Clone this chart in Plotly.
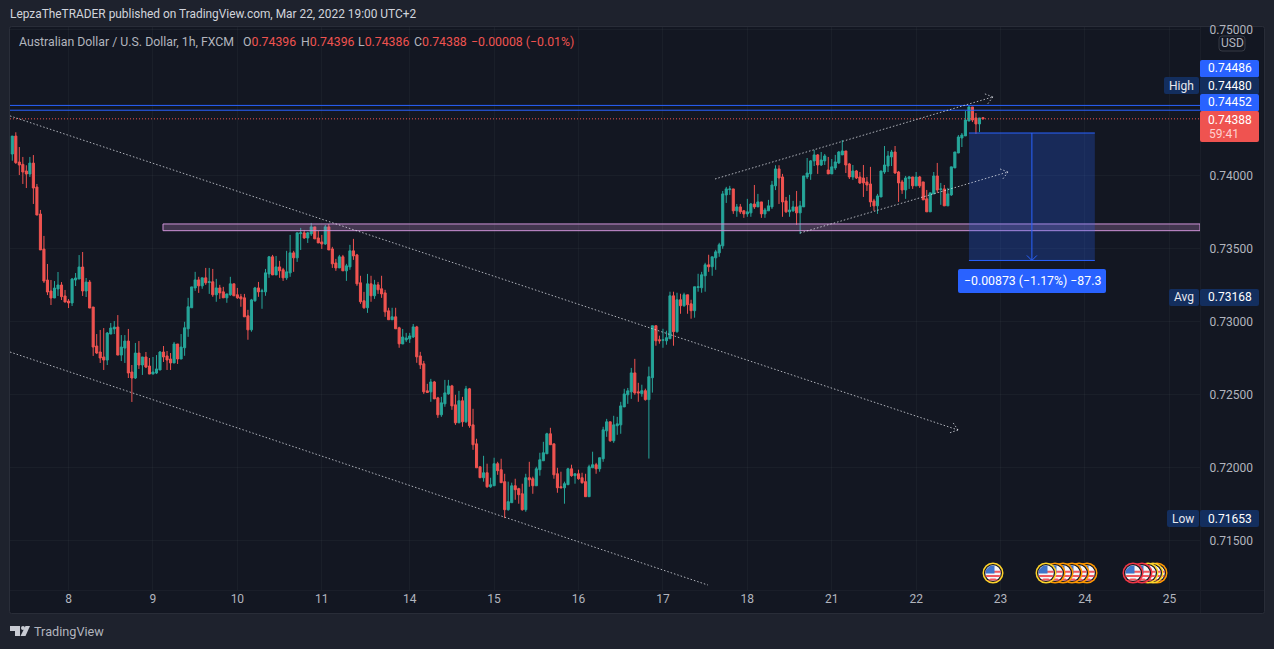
import math
import plotly.graph_objects as go

# ---- data: hourly AUD/USD, values in units of 0.00001 ----
opens = [
74147,74270,74092,74076,74031,74010,74085,73921,73736,73496,
73284,73209,73161,73223,73250,73175,73140,73127,73284,73291,
73373,73209,73270,73099,72832,72791,72757,72736,72914,72949,
72962,72770,72818,72866,72654,72613,72784,72702,72757,72695,
72640,72647,72668,72791,72764,72743,72716,72846,72743,72820,
72950,73094,73230,73285,73244,73299,73267,73272,73183,73230,
73203,73162,73183,73258,73183,73169,73162,73039,72943,73142,
73230,73205,73203,73326,73443,73319,73374,73354,73299,73333,
73470,73436,73602,73607,73572,73600,73648,73572,73545,73531,
73648,73497,73401,73367,73443,73347,73374,73484,73456,73265,
73142,73094,73258,73176,73251,73224,73196,73073,73012,73032,
72957,72846,72874,72881,72894,72963,72764,72710,72525,72518,
72586,72477,72361,72436,72504,72559,72429,72306,72457,72313,
72539,72292,72162,72005,71930,71964,71868,71875,72026,71985,
71903,71711,71759,71875,71855,71820,71711,71930,71923,71875,
71985,72046,72094,72231,72162,71957,71868,71861,71882,71991,
71944,71957,71930,71903,71800,71998,72019,71991,72060,72251,
72313,72183,72286,72292,72415,72498,72518,72648,72518,72506,
72526,72465,72615,72971,72875,72871,72868,72882,73176,72930,
73149,73108,73183,73121,73074,73233,73231,73313,73388,73375,
73436,73470,73518,73867,73903,73908,73758,73785,73758,73737,
73744,73805,73785,73819,73737,73758,73785,73929,74045,73990,
73826,73751,73758,73785,73744,73785,73990,74011,74100,74141,
74072,74100,74038,74011,74052,74086,74141,74168,74079,73990,
74031,73990,73983,73956,73942,73826,73792,73853,74024,74065,
74127,74161,74024,73956,73901,73979,73990,73929,73990,73956,
73840,73751,73874,73997,73904,73908,73792,73867,74052,74154,
74257,74271,74373,74469,74394,74353,74396]
highs = [
74270,74296,74195,74127,74070,74127,74140,73942,73764,73586,
73394,73284,73277,73339,73270,73216,73154,73298,73332,73455,
73476,73298,73284,73099,72914,72942,72955,72928,72990,73003,
73044,72907,72907,72949,72702,72853,72866,72757,72791,72750,
72757,72770,72798,72832,72798,72784,72860,72846,72914,72998,
73162,73237,73340,73306,73299,73367,73367,73360,73292,73251,
73237,73189,73306,73258,73230,73189,73189,73080,73155,73237,
73271,73224,73360,73449,73456,73449,73415,73367,73484,73593,
73484,73607,73641,73627,73614,73675,73648,73620,73593,73661,
73668,73511,73429,73456,73456,73395,73525,73566,73463,73313,
73203,73326,73313,73285,73271,73313,73217,73094,73094,73094,
72964,72949,72922,72922,72983,72970,72792,72730,72573,72607,
72593,72484,72484,72600,72600,72566,72498,72525,72484,72559,
72545,72402,72197,72005,72080,72026,71930,72067,72039,72060,
71957,71903,71896,71923,71861,71889,71957,72039,71937,72005,
72101,72176,72238,72272,72162,71998,71971,71903,71998,72019,
71957,71985,71964,71957,72019,72108,72032,72067,72279,72333,
72313,72354,72347,72450,72539,72545,72682,72744,72580,72567,
72540,72691,72971,72971,72903,72950,72937,73204,73204,73197,
73190,73197,73183,73149,73238,73327,73340,73402,73457,73443,
73491,73539,73894,73922,73929,73908,73805,73805,73764,73840,
73812,73935,73874,73819,73778,73833,73963,74070,74070,74011,
73853,73867,73826,73894,73826,73997,74120,74106,74175,74147,
74161,74147,74127,74113,74141,74168,74243,74168,74086,74072,
74038,74024,74072,73990,74059,73840,73874,74031,74202,74168,
74175,74202,74031,73970,73997,73997,73990,74024,73997,73956,
73901,73881,74024,74086,73949,73935,73915,74059,74161,74277,
74291,74442,74483,74469,74428,74394,74396]
lows = [
74101,74079,74003,73942,73914,73990,73805,73729,73490,73264,
73181,73113,73161,73175,73147,73133,73092,73106,73243,73291,
73175,73168,73092,72764,72777,72716,72668,72702,72914,72914,
72770,72729,72716,72613,72449,72606,72675,72634,72681,72640,
72640,72640,72668,72723,72668,72668,72716,72709,72743,72765,
72895,73094,73210,73196,73224,73251,73189,73169,73135,73155,
73162,73128,73176,73176,73155,73101,73032,72875,72930,73135,
73169,73087,73176,73299,73319,73319,73299,73278,73285,73306,
73340,73408,73490,73566,73538,73586,73566,73538,73497,73525,
73490,73367,73347,73367,73347,73278,73354,73422,73244,73121,
73087,73059,73135,73155,73189,73162,73032,73012,73012,72950,
72820,72846,72860,72853,72887,72717,72675,72504,72511,72450,
72470,72340,72347,72416,72498,72395,72292,72306,72279,72306,
72272,72121,71998,71930,71903,71861,71861,71875,71950,71896,
71653,71704,71759,71779,71752,71704,71697,71868,71820,71875,
71944,72046,72094,72156,71923,71827,71861,71752,71882,71937,
71889,71916,71889,71800,71800,71998,71957,71971,72039,72210,
72176,72169,72224,72231,72415,72436,72470,72498,72450,72485,
72458,72061,72513,72834,72848,72820,72841,72882,72834,72923,
73053,73101,73053,73019,73026,73204,73197,73204,73340,73313,
73354,73443,73498,73812,73867,73737,73717,73737,73710,73717,
73717,73771,73785,73710,73710,73758,73771,73900,73805,73717,
73744,73717,73751,73662,73600,73785,73976,73970,74065,74011,
74065,74072,74011,74011,74038,74079,74141,74017,73976,73970,
73976,73942,73853,73894,73785,73758,73737,73853,74011,74024,
74065,74011,73819,73874,73840,73908,73908,73929,73915,73833,
73751,73751,73874,73881,73799,73792,73792,73860,74052,74154,
74195,74271,74373,74366,74284,74298,74386]
closes = [
74270,74088,74072,74024,74010,74085,73914,73729,73490,73277,
73202,73161,73229,73250,73170,73133,73127,73291,73298,73373,
73209,73270,73092,72825,72784,72750,72736,72921,72955,72962,
72770,72825,72866,72647,72613,72784,72702,72757,72688,72640,
72654,72675,72791,72757,72736,72716,72846,72743,72825,72957,
73101,73237,73285,73244,73299,73265,73272,73183,73230,73196,
73162,73189,73258,73176,73162,73155,73032,72943,73148,73230,
73203,73210,73333,73443,73319,73374,73347,73299,73340,73470,
73436,73607,73607,73572,73607,73648,73566,73538,73531,73648,
73490,73395,73367,73443,73347,73381,73484,73449,73258,73135,
73094,73258,73176,73251,73217,73189,73066,73012,73032,72950,
72847,72894,72887,72901,72963,72758,72703,72518,72514,72586,
72470,72361,72443,72511,72559,72422,72306,72457,72313,72539,
72286,72156,71998,71930,71964,71868,71882,72026,71978,71896,
71711,71766,71875,71848,71814,71711,71930,71916,71875,71991,
72053,72101,72231,72156,71950,71861,71861,71889,71991,71944,
71957,71923,71896,71800,72005,72019,71991,72067,72258,72313,
72183,72292,72299,72422,72504,72525,72648,72511,72511,72526,
72465,72622,72971,72868,72868,72875,72889,73176,72930,73149,
73108,73183,73115,73074,73238,73238,73320,73388,73375,73443,
73477,73525,73874,73908,73908,73758,73785,73751,73737,73751,
73805,73785,73819,73737,73764,73792,73935,74045,73983,73819,
73751,73764,73785,73744,73792,73997,74017,74100,74141,74072,
74106,74134,74011,74059,74093,74161,74168,74072,73990,74031,
73983,73949,73949,73935,73819,73792,73860,74031,74072,74134,
74161,74017,73949,73901,73983,73990,73929,73990,73929,73833,
73751,73881,73997,73901,73908,73792,73874,74059,74161,74264,
74277,74380,74469,74380,74353,74394,74388]

day_positions = [16, 40, 64, 88, 113, 137, 161, 185, 209, 233, 257, 281, 305, 329]
day_labels = ["8", "9", "10", "11", "14", "15", "16", "17", "18", "21", "22", "23", "24", "25"]
price_ticks = [0.75, 0.74, 0.735, 0.73, 0.725, 0.72, 0.715]
price_labels = ["0.75000", "0.74000", "0.73500", "0.73000", "0.72500", "0.72000", "0.71500"]

blue_levels = [0.74480, 0.74447]
last_price = 0.74388
zone_low, zone_high, zone_start = 0.73622, 0.73668, 42.85
short_top, short_bottom = 0.74291, 0.73418
short_start, short_end = 272.0, 307.8
# trend lines: start index, start price, end index, end price, arrow?
trend_start_x = [-0.65, -0.65, 199.8, 224.0]
trend_start_p = [0.74408, 0.72791, 0.73976, 0.73606]
trend_end_x = [268.9, 197.8, 278.8, 283.1]
trend_end_p = [0.72257, 0.71195, 0.74538, 0.74024]
trend_arrow = [True, False, True, True]

FONT = "Roboto"
BG_OUT, BG = "#1e222d", "#131722"
UP, DOWN = "#26a69a", "#ef5350"
BLUE, NAVY = "#2962ff", "#132e5e"

# ---- layout geometry ----
L, T, W, H = 10, 27, 1190, 563
XR = [-0.65, 337.7]
YR = [0.71161, 0.75017]
def X(px): return (px - L) / W
def Y(py): return 1 - (py - T) / H
def data_px(i, p):
    return (L + (i - XR[0]) / (XR[1] - XR[0]) * W,
            T + (YR[1] - p) / (YR[1] - YR[0]) * H)

shapes, ann = [], []
def paper(**k):
    return dict(xref="paper", yref="paper", **k)

def rrect(x0, y0, x1, y1, r=2):
    c = lambda x, y: f"{X(x):.5f},{Y(y):.5f}"
    return (f"M{c(x0+r,y0)} L{c(x1-r,y0)} Q{c(x1,y0)} {c(x1,y0+r)} L{c(x1,y1-r)} Q{c(x1,y1)} {c(x1-r,y1)} "
            f"L{c(x0+r,y1)} Q{c(x0,y1)} {c(x0,y1-r)} L{c(x0,y0+r)} Q{c(x0,y0)} {c(x0+r,y0)} Z")

def poly(pts):
    return "M" + " L".join(f"{X(x):.5f},{Y(y):.5f}" for x, y in pts) + " Z"

def text(px, py, s, color="#d1d4dc", size=12, anchor="center"):
    ann.append(dict(xref="paper", yref="paper", x=X(px), y=Y(py), text=s, showarrow=False,
                    xanchor=anchor, yanchor="middle", borderpad=0,
                    font=dict(family=FONT, size=size, color=color)))

def box(x0, y0, x1, y1, fill):
    shapes.append(paper(type="path", path=rrect(x0, y0, x1, y1), fillcolor=fill, line_width=0, layer="above"))

# pane background and dividers
shapes.append(paper(type="path", path=rrect(9.5, 26.5, 1264.5, 613.5), fillcolor=BG,
                    line=dict(color="#2a2e39", width=1), layer="below"))
shapes.append(paper(type="line", x0=X(1200.5), x1=X(1200.5), y0=Y(27), y1=Y(613),
                    line=dict(color="#1a1e29", width=1), layer="below"))
shapes.append(paper(type="line", x0=X(10), x1=X(1264), y0=Y(590.5), y1=Y(590.5),
                    line=dict(color="#1a1e29", width=1), layer="below"))

# horizontal levels
for lv in blue_levels:
    shapes.append(dict(type="line", xref="paper", yref="y", x0=0, x1=1, y0=lv, y1=lv,
                       line=dict(color=BLUE, width=1)))
shapes.append(dict(type="line", xref="paper", yref="y", x0=0, x1=1, y0=last_price, y1=last_price,
                   line=dict(color=DOWN, width=1, dash="1px,2px")))
# purple zone
shapes.append(dict(type="rect", xref="x", yref="y", x0=zone_start, x1=XR[1], y0=zone_low, y1=zone_high,
                   fillcolor="rgba(206,147,216,0.25)", line=dict(color="#ce93d8", width=1)))
# short position tool
shapes.append(dict(type="rect", xref="x", yref="y", x0=short_start, x1=short_end, y0=short_bottom, y1=short_top,
                   fillcolor="rgba(41,98,255,0.25)", line_width=0))
for lv in (short_top, short_bottom):
    shapes.append(dict(type="line", xref="x", yref="y", x0=short_start, x1=short_end, y0=lv, y1=lv,
                       line=dict(color=BLUE, width=1)))
mid = (short_start + short_end) / 2
shapes.append(dict(type="line", xref="x", yref="y", x0=mid, x1=mid, y0=short_top, y1=short_bottom,
                   line=dict(color=BLUE, width=1)))
ax, ay = data_px(mid, short_bottom)
for dx in (-5, 5):
    shapes.append(paper(type="line", x0=X(ax + dx), x1=X(ax), y0=Y(ay - 5), y1=Y(ay), line=dict(color=BLUE, width=1)))
box(958, 269, 1106, 293, BLUE)
text(1032, 281, "−0.00873 (−1.17%) −87.3", "#ffffff", 12.3)

# dotted trend lines with open arrow heads
DOT = dict(color="rgba(235,238,245,0.72)", width=1, dash="1.5px,2px")
for x0, p0, x1, p1, arrow in zip(trend_start_x, trend_start_p, trend_end_x, trend_end_p, trend_arrow):
    shapes.append(dict(type="line", xref="x", yref="y", x0=x0, y0=p0, x1=x1, y1=p1, line=DOT))
    if arrow:
        a, b = data_px(x0, p0), data_px(x1, p1)
        ang = math.atan2(b[1] - a[1], b[0] - a[0])
        for s in (-1, 1):
            t = ang + math.pi + s * 0.65
            shapes.append(paper(type="line", x0=X(b[0]), y0=Y(b[1]),
                                x1=X(b[0] + 9 * math.cos(t)), y1=Y(b[1] + 9 * math.sin(t)), line=DOT))

# price-axis labels
box(1200, 60, 1259, 77.5, BLUE);  text(1230, 68.5, "0.74486", "#ffffff")
box(1200, 77, 1259, 94.5, NAVY);  text(1230, 85.5, "0.74480", "#ffffff")
box(1164, 77, 1199, 94, NAVY);    text(1181.5, 85.5, "High", "#e6e8ee")
box(1200, 94, 1259, 111.5, BLUE); text(1230, 102.5, "0.74452", "#ffffff")
box(1200, 111, 1259, 142, DOWN);  text(1230, 119.5, "0.74388", "#ffffff"); text(1224, 133.5, "59:41", "#ffd0cf")
box(1169, 289, 1199, 306, NAVY);  text(1184, 297.5, "Avg", "#e6e8ee")
box(1200, 289, 1259, 306, NAVY);  text(1230, 297.5, "0.73168", "#ffffff")
box(1167, 510, 1199, 527, NAVY);  text(1183, 518.5, "Low", "#e6e8ee")
box(1200, 510, 1259, 527, NAVY);  text(1230, 518.5, "0.71653", "#ffffff")
shapes.append(paper(type="path", path=rrect(1219, 36, 1245, 51, 3), fillcolor=BG,
                    line=dict(color="#363a45", width=1)))
text(1232, 43.5, "USD", "#b2b5be")

# header texts
text(9, 14, "LepzaTheTRADER published on TradingView.com, Mar 22, 2022 19:00 UTC+2", "#d1d4dc", 11.9, "left")
R = DOWN
text(18, 41.5, "Australian Dollar / U.S. Dollar, 1h, FXCM", "#b2b5be", 12.3, "left")
for px, head, val in ((242, "O", "0.74396"), (300, "H", "0.74396"), (357, "L", "0.74386"), (412.5, "C", "0.74388")):
    text(px, 41.5, f"{head}<span style='color:{R}'>{val}</span>", "#b2b5be", 12.3, "left")
text(469.6, 41.5, "−0.00008 (−0.01%)", R, 12.3, "left")
text(33, 631, "TradingView", "#b2b5be", 12.7, "left")

# TradingView logo
LOGO = "#c8cbd3"
shapes.append(paper(type="path", path=poly([(10, 626), (20, 626), (20, 636), (15, 636), (15, 631), (10, 631)]),
                    fillcolor=LOGO, line_width=0))
shapes.append(paper(type="circle", x0=X(21), x1=X(25), y0=Y(630), y1=Y(626), fillcolor=LOGO, line_width=0))
shapes.append(paper(type="path", path=poly([(25.5, 626), (30, 626), (25.5, 636), (20.5, 636)]),
                    fillcolor=LOGO, line_width=0))

# event flags
def flag(cx, cy, ring):
    def circ(r, fill):
        shapes.append(paper(type="circle", x0=X(cx - r), x1=X(cx + r), y0=Y(cy + r), y1=Y(cy - r),
                            fillcolor=fill, line_width=0))
    circ(10.5, ring); circ(9, BG); circ(7.8, "#f4f4f6")
    r = 7.8
    for top in (-2.2, 2.0, 5.4):
        bot = top + 2.0
        wt = math.sqrt(max(r*r - max(top*top, bot*bot), 0))
        wm = math.sqrt(max(r*r - min(top*top, bot*bot), 0))
        shapes.append(paper(type="path", path=poly([(cx - wt, cy + top), (cx + wt, cy + top), (cx + wm, cy + bot), (cx - wm, cy + bot)]),
                            fillcolor="#f0585f", line_width=0))
    shapes.append(paper(type="path", path=poly([(cx - 7, cy - 3.2), (cx - 3.2, cy - 7), (cx + 1.5, cy - 7.6), (cx + 1.5, cy + 0.5), (cx - 7.7, cy + 0.5)]),
                        fillcolor="#3f74c9", line_width=0))

GOLD, ORANGE, RED = "#ffd42a", "#ff9800", "#f23645"
flag_cx = [993, 1087, 1079, 1072, 1063, 1055, 1046, 1157, 1153, 1148, 1142, 1133]
flag_ring = [GOLD, ORANGE, ORANGE, ORANGE, ORANGE, ORANGE, GOLD, ORANGE, GOLD, GOLD, RED, RED]
for cx, ring in zip(flag_cx, flag_ring):
    flag(cx, 573, ring)

assert len(opens) == len(highs) == len(lows) == len(closes) == 277
scale = 1e-5
fig = go.Figure(go.Candlestick(
    x=list(range(len(opens))),
    open=[v * scale for v in opens], high=[v * scale for v in highs],
    low=[v * scale for v in lows], close=[v * scale for v in closes],
    increasing=dict(line=dict(color=UP, width=1), fillcolor=UP),
    decreasing=dict(line=dict(color=DOWN, width=1), fillcolor=DOWN),
    whiskerwidth=0, showlegend=False, hoverinfo="skip"))

GRID = "rgba(240,243,250,0.035)"
fig.update_layout(
    width=1274, height=649, paper_bgcolor=BG_OUT, plot_bgcolor=BG,
    margin=dict(l=L, r=1274 - L - W, t=T, b=649 - T - H, pad=0),
    boxgap=0.15,
    showlegend=False, shapes=shapes, annotations=ann,
    font=dict(family=FONT, size=12, color="#b2b5be"),
    xaxis=dict(range=XR, tickvals=day_positions, ticktext=day_labels, rangeslider=dict(visible=False),
               showgrid=True, gridcolor=GRID, gridwidth=1, zeroline=False, showline=False,
               ticks="", tickfont=dict(family=FONT, size=12, color="#b2b5be")),
    yaxis=dict(range=YR, side="right", tickvals=price_ticks, ticktext=price_labels,
               showgrid=True, gridcolor=GRID, gridwidth=1, zeroline=False, showline=False,
               ticks="outside", ticklen=6, tickcolor="rgba(0,0,0,0)", tickfont=dict(family=FONT, size=12, color="#b2b5be")),
)
fig.write_html("out.html", config=dict(displayModeBar=False),
               post_script="document.body.style.margin='0';document.body.style.overflow='hidden';document.body.style.background='#1e222d';")
